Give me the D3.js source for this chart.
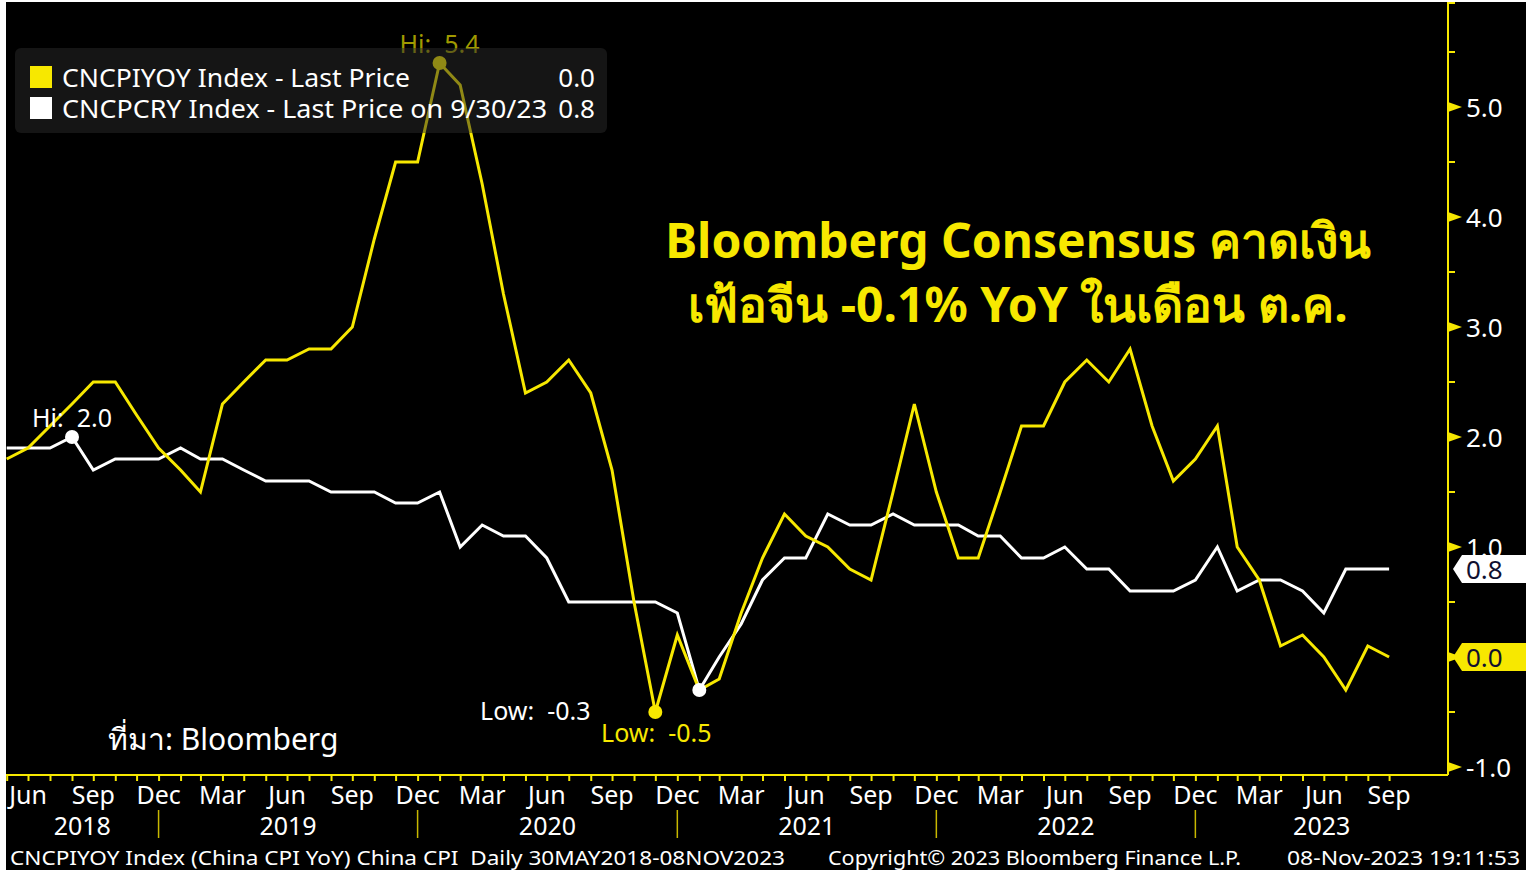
<!DOCTYPE html>
<html>
<head>
<meta charset="utf-8">
<script src="https://cdn.jsdelivr.net/npm/d3@7"></script>
<style>
    html, body { margin: 0; padding: 0; background: #fff; }
    #chart { width: 1531px; height: 870px; }
    text { font-family: "Noto Sans", sans-serif; white-space: pre; }
</style>
</head>
<body>
<div id="chart"></div>
<script>

// monthly observations, May 2018 .. Sep 2023 (plotted at month end)
let firstMonth = new Date(2018, 4, 1);
let lastMonth = new Date(2023, 8, 1);

// CNCPIYOY - China CPI YoY
let cpiYoY = [
    1.8, 1.9, 2.1, 2.3, 2.5, 2.5, 2.2, 1.9,
    1.7, 1.5, 2.3, 2.5, 2.7, 2.7, 2.8, 2.8, 3.0, 3.8, 4.5, 4.5,
    5.4, 5.2, 4.3, 3.3, 2.4, 2.5, 2.7, 2.4, 1.7, 0.5, -0.5, 0.2,
    -0.3, -0.2, 0.4, 0.9, 1.3, 1.1, 1.0, 0.8, 0.7, 1.5, 2.3, 1.5,
    0.9, 0.9, 1.5, 2.1, 2.1, 2.5, 2.7, 2.5, 2.8, 2.1, 1.6, 1.8,
    2.1, 1.0, 0.7, 0.1, 0.2, 0.0, -0.3, 0.1, 0.0
];

// CNCPCRY - China core CPI YoY
let coreYoY = [
    1.9, 1.9, 1.9, 2.0, 1.7, 1.8, 1.8, 1.8,
    1.9, 1.8, 1.8, 1.7, 1.6, 1.6, 1.6, 1.5, 1.5, 1.5, 1.4, 1.4,
    1.5, 1.0, 1.2, 1.1, 1.1, 0.9, 0.5, 0.5, 0.5, 0.5, 0.5, 0.4,
    -0.3, 0.0, 0.3, 0.7, 0.9, 0.9, 1.3, 1.2, 1.2, 1.3, 1.2, 1.2,
    1.2, 1.1, 1.1, 0.9, 0.9, 1.0, 0.8, 0.8, 0.6, 0.6, 0.6, 0.7,
    1.0, 0.6, 0.7, 0.7, 0.6, 0.4, 0.8, 0.8, 0.8
];

let yMajorTicks = [-1, 0, 1, 2, 3, 4, 5];
let yMinorTicks = [-0.5, 0.5, 1.5, 2.5, 3.5, 4.5, 5.5];
let monthLabelNames = ["Mar", "Jun", "Sep", "Dec"];
let yearLabels = ["2018", "2019", "2020", "2021", "2022", "2023"];

let legendRows = [
    {name: "CNCPIYOY Index - Last Price", value: "0.0", color: "#f7e800", len: 348},
    {name: "CNCPCRY Index - Last Price on 9/30/23", value: "0.8", color: "#ffffff", len: 485}
];

let footerLeft = "CNCPIYOY Index (China CPI YoY) China CPI  Daily 30MAY2018-08NOV2023";
let footerMid = "Copyright\u00a9 2023 Bloomberg Finance L.P.";
let footerRight = "08-Nov-2023 19:11:53";
let noteLines = ["Bloomberg Consensus คาดเงิน", "เฟ้อจีน -0.1% YoY ในเดือน ต.ค."];
let sourceNote = "ที่มา: Bloomberg";


class CpiChart {

    constructor(parentElement){
        this.parentElement = parentElement;
        this.yellow = "#f7e800";
        this.initVis();
    }

    initVis(){
        let vis = this;

        vis.width = 1531;
        vis.height = 870;
        vis.plot = {left: 6, right: 1448, top: 2, bottom: 775};

        vis.svg = d3.select("#" + vis.parentElement).append("svg")
            .attr("width", vis.width)
            .attr("height", vis.height);

        // black panel, thin white frame left / top
        vis.svg.append("rect")
            .attr("x", 6).attr("y", 2)
            .attr("width", 1520).attr("height", 868)
            .attr("fill", "#000");

        // month-end dates for every observation
        vis.months = d3.timeMonth.range(firstMonth, d3.timeMonth.offset(lastMonth, 1))
            .map(d => new Date(d.getFullYear(), d.getMonth() + 1, 0));

        vis.x = d3.scaleTime()
            .domain([new Date(2018, 4, 30), new Date(2023, 11, 22)])
            .range([vis.plot.left, vis.plot.right]);

        vis.y = d3.scaleLinear()
            .domain([-1, 5])
            .range([767, 107]);

        vis.wrangleData();
    }

    wrangleData(){
        let vis = this;
        vis.cpiData = vis.months.map((d, i) => ({date: d, value: cpiYoY[i]}));
        vis.coreData = vis.months.map((d, i) => ({date: d, value: coreYoY[i]}));
        vis.updateVis();
    }

    updateVis(){
        let vis = this;
        let x = vis.x, y = vis.y;
        let fmt = v => d3.format(".1f")(v).replace("\u2212", "-");

        // text annotation
        vis.svg.selectAll("text.note")
            .data(noteLines)
            .enter().append("text")
            .attr("class", "note")
            .attr("x", 1018)
            .attr("y", (d, i) => 258 + i * 64)
            .attr("text-anchor", "middle")
            .style("font-weight", "bold")
            .style("font-size", "48px")
            .style("fill", vis.yellow)
            .text(d => d);

        vis.svg.append("text")
            .attr("x", 108).attr("y", 750)
            .style("font-size", "30px")
            .style("fill", "#fff")
            .text(sourceNote);

        // lines
        let line = d3.line()
            .x(d => x(d.date))
            .y(d => y(d.value));

        vis.svg.append("path")
            .datum(vis.coreData)
            .attr("d", line)
            .attr("fill", "none")
            .attr("stroke", "#fff")
            .attr("stroke-width", 3);

        vis.svg.append("path")
            .datum(vis.cpiData)
            .attr("d", line)
            .attr("fill", "none")
            .attr("stroke", vis.yellow)
            .attr("stroke-width", 3);

        // hi / low markers
        let marks = [
            {d: d3.greatest(vis.coreData, d => d.value), color: "#fff", dot: "#fff", label: "Hi:  ", dx: 0, dy: -10},
            {d: d3.least(vis.coreData, d => d.value), color: "#fff", dot: "#fff", label: "Low:  ", dx: -164, dy: 30},
            {d: d3.greatest(vis.cpiData, d => d.value), color: "#a09a00", dot: vis.yellow, label: "Hi:  ", dx: 0, dy: -10},
            {d: d3.least(vis.cpiData, d => d.value), color: vis.yellow, dot: vis.yellow, label: "Low:  ", dx: 1, dy: 30}
        ];

        marks.forEach(m => {
            vis.svg.append("circle")
                .attr("cx", x(m.d.date))
                .attr("cy", y(m.d.value))
                .attr("r", 7)
                .attr("fill", m.dot);
            vis.svg.append("text")
                .attr("x", x(m.d.date) + m.dx)
                .attr("y", y(m.d.value) + m.dy)
                .attr("text-anchor", "middle")
                .style("font-size", "25px")
                .style("fill", m.color)
                .text(m.label + fmt(m.d.value));
        });

        // legend (semi transparent, dims what lies under it)
        let legend = vis.svg.append("g").attr("class", "legend");
        legend.append("rect")
            .attr("x", 15).attr("y", 48)
            .attr("width", 592).attr("height", 85)
            .attr("rx", 6)
            .attr("fill", "#2a2a2a")
            .attr("opacity", 0.5);

        let rows = legend.selectAll("g.row")
            .data(legendRows)
            .enter().append("g")
            .attr("class", "row")
            .attr("transform", (d, i) => `translate(0, ${66 + i * 31})`);
        rows.append("rect")
            .attr("x", 30).attr("width", 22).attr("height", 22)
            .attr("fill", d => d.color);
        rows.append("text")
            .attr("x", 62).attr("y", 21)
            .attr("textLength", d => d.len)
            .attr("lengthAdjust", "spacingAndGlyphs")
            .style("font-size", "26px")
            .style("fill", "#fff")
            .text(d => d.name);
        rows.append("text")
            .attr("x", 595).attr("y", 21)
            .attr("text-anchor", "end")
            .style("font-size", "26px")
            .style("fill", "#fff")
            .text(d => d.value);

        // right axis
        let axisG = vis.svg.append("g");
        axisG.append("line")
            .attr("x1", vis.plot.right).attr("x2", vis.plot.right)
            .attr("y1", vis.plot.top).attr("y2", vis.plot.bottom)
            .attr("stroke", vis.yellow).attr("stroke-width", 2);
        axisG.append("line")
            .attr("x1", vis.plot.right).attr("x2", vis.plot.right + 7)
            .attr("y1", vis.plot.top + 1).attr("y2", vis.plot.top + 1)
            .attr("stroke", vis.yellow).attr("stroke-width", 2);

        axisG.selectAll("line.minor")
            .data(yMinorTicks)
            .enter().append("line")
            .attr("class", "minor")
            .attr("x1", vis.plot.right).attr("x2", vis.plot.right + 7)
            .attr("y1", d => y(d)).attr("y2", d => y(d))
            .attr("stroke", vis.yellow).attr("stroke-width", 2);

        axisG.selectAll("path.major")
            .data(yMajorTicks)
            .enter().append("path")
            .attr("class", "major")
            .attr("d", d => `M${vis.plot.right},${y(d) - 5} L${vis.plot.right + 14},${y(d)} L${vis.plot.right},${y(d) + 5} Z`)
            .attr("fill", vis.yellow);

        axisG.selectAll("text.ylab")
            .data(yMajorTicks)
            .enter().append("text")
            .attr("class", "ylab")
            .attr("x", 1466)
            .attr("y", d => y(d) + 10)
            .style("font-size", "26px")
            .style("fill", "#fff")
            .text(d => fmt(d));

        // last value flags
        let flags = [
            {value: coreYoY[coreYoY.length - 1], fill: "#fff"},
            {value: cpiYoY[cpiYoY.length - 1], fill: vis.yellow}
        ];
        flags.forEach(f => {
            let cy = y(f.value);
            axisG.append("path")
                .attr("d", `M1453,${cy} L1462,${cy - 14} L1526,${cy - 14} L1526,${cy + 14} L1462,${cy + 14} Z`)
                .attr("fill", f.fill);
            axisG.append("text")
                .attr("x", 1466).attr("y", cy + 10)
                .style("font-size", "26px")
                .style("fill", "#101030")
                .text(fmt(f.value));
        });

        // bottom axis, monthly ticks
        let xAxis = d3.axisBottom(x)
            .tickValues(vis.months)
            .tickSize(6)
            .tickFormat("");
        let xAxisG = vis.svg.append("g")
            .attr("transform", `translate(0, ${vis.plot.bottom})`)
            .call(xAxis);
        xAxisG.select(".domain").remove();
        xAxisG.selectAll(".tick line").attr("stroke", vis.yellow).attr("stroke-width", 2);
        vis.svg.append("line")
            .attr("x1", vis.plot.left).attr("x2", vis.plot.right)
            .attr("y1", vis.plot.bottom).attr("y2", vis.plot.bottom)
            .attr("stroke", vis.yellow).attr("stroke-width", 2);

        let quarterMonths = vis.months.filter(d => d.getMonth() % 3 === 2);
        vis.svg.selectAll("text.month")
            .data(quarterMonths)
            .enter().append("text")
            .attr("class", "month")
            .attr("x", d => x(d))
            .attr("y", 804)
            .attr("text-anchor", "middle")
            .style("font-size", "25px")
            .style("fill", "#fff")
            .text(d => monthLabelNames[Math.floor(d.getMonth() / 3)]);

        // year row with separators at year ends
        let yearEnds = vis.months.filter(d => d.getMonth() === 11);
        vis.svg.selectAll("line.yearsep")
            .data(yearEnds)
            .enter().append("line")
            .attr("class", "yearsep")
            .attr("x1", d => x(d)).attr("x2", d => x(d))
            .attr("y1", 810).attr("y2", 838)
            .attr("stroke", "#c8b800").attr("stroke-width", 1.5);

        let bounds = [vis.plot.left].concat(yearEnds.map(d => x(d)), [vis.plot.right]);
        vis.svg.selectAll("text.year")
            .data(yearLabels)
            .enter().append("text")
            .attr("class", "year")
            .attr("x", (d, i) => (bounds[i] + bounds[i + 1]) / 2)
            .attr("y", 835)
            .attr("text-anchor", "middle")
            .style("font-size", "25px")
            .style("fill", "#fff")
            .text(d => d);

        // footer
        let footer = [
            {t: footerLeft, x: 10, len: 775},
            {t: footerMid, x: 828, len: 413},
            {t: footerRight, x: 1287, len: 233}
        ];
        vis.svg.selectAll("text.footer")
            .data(footer)
            .enter().append("text")
            .attr("class", "footer")
            .attr("x", d => d.x)
            .attr("y", 865)
            .attr("textLength", d => d.len)
            .attr("lengthAdjust", "spacingAndGlyphs")
            .style("font-size", "20px")
            .style("fill", "#fff")
            .text(d => d.t);
    }
}

new CpiChart("chart");
</script>
</body>
</html>
